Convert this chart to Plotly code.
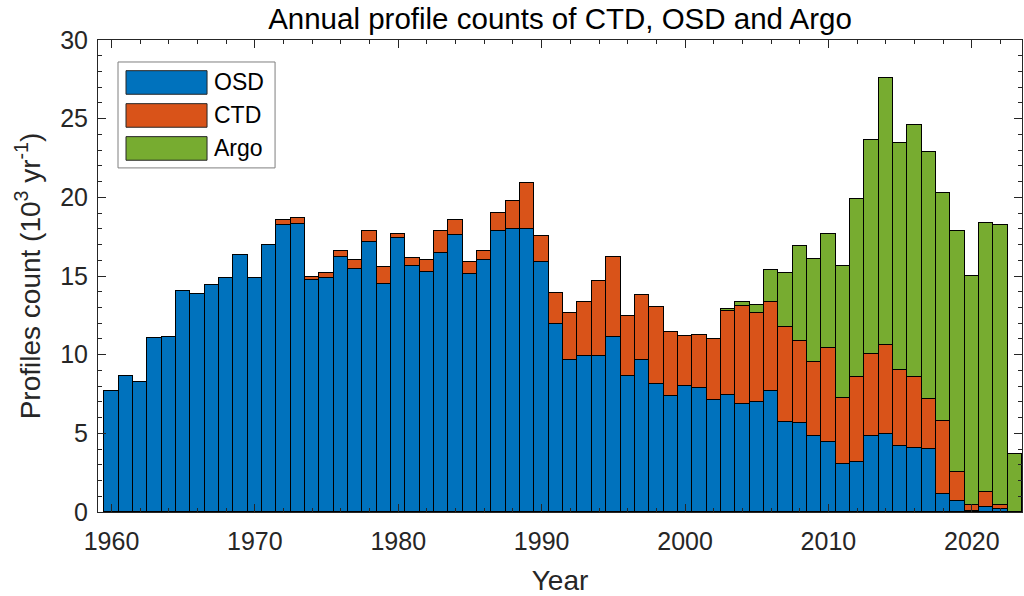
import plotly.graph_objects as go

# Annual profile counts (10^3 per year)
years = list(range(1960, 2024))

osd = [7.67, 8.62, 8.29, 11.04, 11.10, 14.06, 13.87, 14.40, 14.87, 16.35,
       14.87, 16.98, 18.25, 18.32, 14.72, 14.87, 16.20, 15.44, 17.13, 14.51,
       17.41, 15.61, 15.27, 16.46, 17.62, 15.14, 16.03, 17.85, 17.96, 17.96,
       15.90, 11.97, 9.66, 9.89, 9.89, 11.12, 8.67, 9.68, 8.16, 7.40,
       8.03, 7.90, 7.14, 7.46, 6.89, 7.00, 7.71, 5.73, 5.68, 4.86,
       4.48, 3.02, 3.19, 4.86, 4.94, 4.20, 4.07, 3.99, 1.14, 0.70,
       0.05, 0.29, 0.19, 0.0]

ctd = [0, 0, 0, 0, 0, 0, 0, 0, 0, 0,
       0, 0, 0.30, 0.36, 0.19, 0.31, 0.42, 0.59, 0.74, 1.06,
       0.25, 0.55, 0.76, 1.41, 0.93, 0.74, 0.57, 1.17, 1.82, 2.92,
       1.66, 1.95, 2.99, 3.43, 4.79, 5.06, 3.78, 4.09, 4.87, 4.06,
       3.18, 3.37, 3.86, 5.33, 6.22, 5.62, 5.63, 6.00, 5.17, 4.67,
       5.92, 4.23, 5.37, 5.18, 5.65, 4.83, 4.53, 3.20, 4.67, 1.82,
       0.37, 0.96, 0.25, 0.0]

argo = [0] * 43 + [0.11, 0.21, 0.53, 2.06, 3.43, 6.07, 6.57,
                   7.24, 8.38, 11.34, 13.59, 16.98, 14.41, 16.02, 15.68, 14.49, 15.35,
                   14.60, 17.15, 17.83, 3.71]

series_names = ['OSD', 'CTD', 'Argo']
series_colors = ['#0072BD', '#D95319', '#77AC30']
FONT = 'Arial, Liberation Sans, sans-serif'
INK = '#262626'

W, H = 1024, 596
L, R, T, B = 98, 1021.7, 40, 512.3


def px_x(p):
    return (p - L) / (R - L)


def px_y(p):
    return (B - p) / (B - T)


fig = go.Figure()
for name, vals, color in zip(series_names, [osd, ctd, argo], series_colors):
    fig.add_trace(go.Bar(
        x=years, y=vals, name=name,
        marker=dict(color=color, line=dict(color='black', width=1)),
        showlegend=False
    ))

# MATLAB-style legend with wide patches
shapes = [dict(type='rect', xref='paper', yref='paper',
               x0=px_x(118), x1=px_x(275), y0=px_y(168), y1=px_y(62),
               line=dict(color='#7f7f7f', width=1), fillcolor='white', layer='above')]
annotations = []
for i, (name, color) in enumerate(zip(series_names, series_colors)):
    cy = 82.5 + 33 * i
    shapes.append(dict(type='rect', xref='paper', yref='paper',
                       x0=px_x(126), x1=px_x(207), y0=px_y(cy + 11.8), y1=px_y(cy - 11.8),
                       line=dict(color='#262626', width=1), fillcolor=color, layer='above'))
    annotations.append(dict(text=name, xref='paper', yref='paper',
                            x=px_x(212), y=px_y(cy), xanchor='left', yanchor='middle',
                            showarrow=False, font=dict(family=FONT, size=23, color='black')))

fig.update_layout(
    width=W, height=H,
    margin=dict(l=L, r=W - R, t=T, b=H - B),
    barmode='stack', bargap=0,
    plot_bgcolor='white', paper_bgcolor='white',
    font=dict(family=FONT, color=INK),
    title=dict(text='Annual profile counts of CTD, OSD and Argo',
               x=px_x((L + R) / 2), xref='paper', xanchor='center',
               y=1 - 19 / H, yref='container', yanchor='middle',
               font=dict(family=FONT, size=29.5, color='black')),
    shapes=shapes, annotations=annotations,
)

fig.update_xaxes(
    range=[1959.06, 2023.5], tickvals=list(range(1960, 2021, 10)),
    ticks='inside', ticklen=8, tickcolor=INK, tickwidth=1,
    minor=dict(dtick=2, ticks='inside', ticklen=4, tickcolor=INK),
    showline=True, linecolor=INK, linewidth=1, mirror='ticks',
    showgrid=False, zeroline=False,
    tickfont=dict(size=25, color=INK), ticklabelstandoff=7,
    title=dict(text='Year', font=dict(size=28, color=INK), standoff=16),
    automargin=False,
)
fig.update_yaxes(
    range=[0, 30], dtick=5,
    ticks='inside', ticklen=8, tickcolor=INK, tickwidth=1,
    minor=dict(dtick=1, ticks='inside', ticklen=4, tickcolor=INK),
    showline=True, linecolor=INK, linewidth=1, mirror='ticks',
    showgrid=False, zeroline=False,
    tickfont=dict(size=25, color=INK), ticklabelstandoff=4,
    title=dict(text='Profiles count (10<sup>3</sup> yr<sup>-1</sup>)',
               font=dict(size=28, color=INK), standoff=11),
    automargin=False,
)

# drop the default page margin so the figure sits at the window's corner
fig.write_html("out.html", config={'displayModeBar': False},
               post_script="document.body.style.margin='0';")
